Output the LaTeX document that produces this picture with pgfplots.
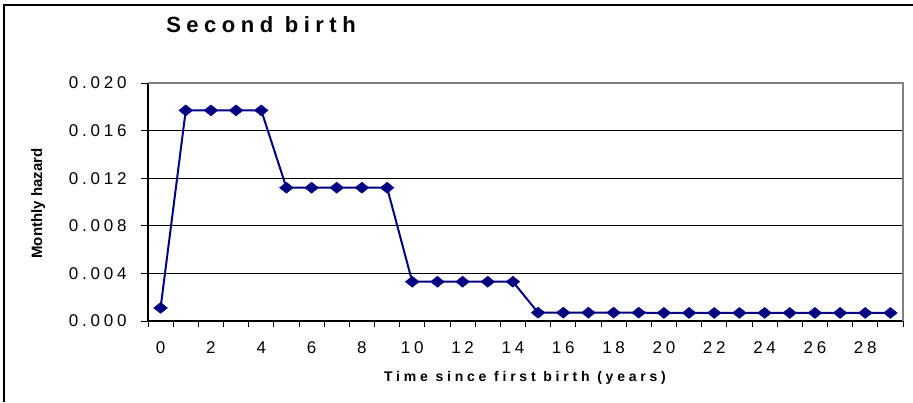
\documentclass[border=0pt]{standalone}
\usepackage{fontspec}
\setmainfont{Liberation Sans}
\newfontfamily\tickfont[LetterSpace=22]{Liberation Sans}
\newfontfamily\titlefont[LetterSpace=25]{Liberation Sans}
\newfontfamily\xlabfont[LetterSpace=27]{Liberation Sans}
\usepackage{pgfplots}
\pgfplotsset{compat=1.18}
\usepackage{pgfplotstable}
\definecolor{navyc}{HTML}{000080}
\pgfplotstableread{
x y
0 0.0011
1 0.0177
2 0.0177
3 0.0177
4 0.0177
5 0.0112
6 0.0112
7 0.0112
8 0.0112
9 0.0112
10 0.0033
11 0.0033
12 0.0033
13 0.0033
14 0.0033
15 0.0007
16 0.0007
17 0.0007
18 0.0007
19 0.0007
20 0.00068
21 0.00068
22 0.00068
23 0.00068
24 0.00068
25 0.00068
26 0.00068
27 0.00068
28 0.00068
29 0.00068
}\hazard
\begin{document}
\begin{tikzpicture}
\path[use as bounding box] (0pt,0pt) rectangle (913pt,-402pt);
\draw[black, line width=1.5pt] (4pt,-402pt) -- (4pt,-5pt) -- (913pt,-5pt);
\begin{axis}[
  at={(148pt,-321pt)}, anchor=south west,
  scale only axis, width=755pt, height=238pt,
  xmin=-0.5, xmax=29.5, ymin=0, ymax=0.020,
  axis line style={draw=none},
  tick pos=left, tick align=outside,
  xtick={0,2,...,28},
  minor xtick={-0.5,0.5,...,29.5},
  major x tick style={draw=none},
  minor tick length=6pt,
  major tick length=7pt,
  ytick={0,0.004,0.008,0.012,0.016,0.020},
  tick style={black, line width=1pt},
  ymajorgrids, grid style={black, line width=0.9pt},
  scaled y ticks=false,
  yticklabel style={xshift=-11pt, /pgf/number format/fixed, /pgf/number format/fixed zerofill, /pgf/number format/precision=3},
  /pgf/number format/assume math mode=true,
  ticklabel style={font=\tickfont\fontsize{17}{20}\selectfont},
  xticklabel style={yshift=-10pt},
  clip=false,
]
\addplot[navyc, line width=2pt, mark=diamond*, mark size=5.5pt, mark options={xscale=1.65, fill=navyc, line width=0.5pt}] table[x=x,y=y] {\hazard};
\draw[black, line width=1.5pt] (rel axis cs:0,1) -- (rel axis cs:0,0) -- (rel axis cs:1,0);
\draw[gray, line width=2pt] (rel axis cs:0,1) -- (rel axis cs:1,1) -- (rel axis cs:1,0);
\end{axis}
\node[anchor=base, font=\titlefont\bfseries\fontsize{22}{26}\selectfont] at (261pt,-32pt) {Second birth};
\node[anchor=base, font=\xlabfont\bfseries\fontsize{14}{17}\selectfont] at (525pt,-381.7pt) {Time since first birth (years)};
\node[anchor=base, rotate=90, font=\bfseries\fontsize{15}{18}\selectfont] at (42pt,-203.5pt) {Monthly hazard};
\end{tikzpicture}
\end{document}
